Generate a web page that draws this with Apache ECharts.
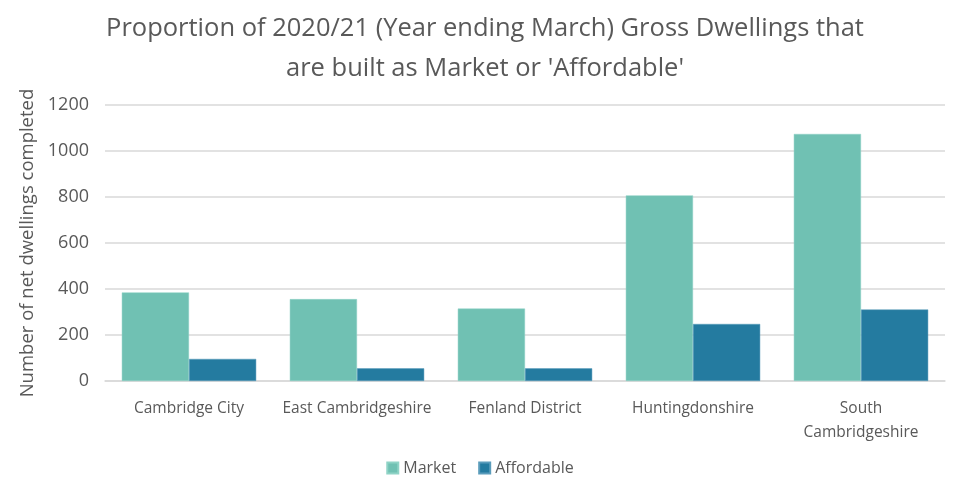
<!DOCTYPE html>
<html>
<head>
<meta charset="utf-8">
<script src="https://cdn.jsdelivr.net/npm/echarts@6/dist/echarts.min.js"></script>
<style>html,body{margin:0;padding:0;background:#fff;}#c{width:960px;height:492px;}</style>
</head>
<body>
<div id="c"></div>
<script>
const categories = ['Cambridge City', 'East Cambridgeshire', 'Fenland District', 'Huntingdonshire', 'South\nCambridgeshire'];
const market = [385, 356, 315, 807, 1074];
const affordable = [96, 55, 55, 248, 311];
const yTicks = [0, 200, 400, 600, 800, 1000, 1200];

const font = '"Open Sans", "Noto Sans", sans-serif';
const chart = echarts.init(document.getElementById('c'));
chart.setOption({
  animation: false,
  title: {
    text: "Proportion of 2020/21 (Year ending March) Gross Dwellings that\nare built as Market or 'Affordable'",
    left: 480, top: 4, textAlign: 'center',
    textStyle: { fontFamily: font, fontSize: 25.5, fontWeight: 'normal', color: '#595959', lineHeight: 40 }
  },
  legend: {
    bottom: 11, left: 'center', itemWidth: 11, itemHeight: 11, itemGap: 22,
    icon: 'rect',
    textStyle: { fontFamily: font, fontSize: 16, color: '#595959' },
    data: ['Market', 'Affordable']
  },
  grid: { left: 105, right: 15, top: 105, bottom: 111 },
  xAxis: {
    type: 'category', data: categories,
    axisTick: { show: false },
    axisLine: { lineStyle: { color: '#d9d9d9', width: 1.5 } },
    axisLabel: { fontFamily: font, fontSize: 15.5, color: '#595959', margin: 16, lineHeight: 24, interval: 0 }
  },
  yAxis: {
    type: 'value', min: 0, max: 1200, interval: 200,
    name: 'Number of net dwellings completed', nameLocation: 'middle', nameGap: 63,
    nameTextStyle: { fontFamily: font, fontSize: 18.5, color: '#595959' },
    axisLabel: { fontFamily: font, fontSize: 18, color: '#595959', margin: 16,
      formatter: v => yTicks.includes(v) ? String(v) : '' },
    splitLine: { lineStyle: { color: '#d9d9d9', width: 1.5 } }
  },
  series: [
    { name: 'Market', type: 'bar', data: market, barGap: '0%', barCategoryGap: '20%',
      itemStyle: { color: '#70C1B3', borderColor: '#8fd3c6', borderWidth: 0.5 } },
    { name: 'Affordable', type: 'bar', data: affordable,
      itemStyle: { color: '#247BA0', borderColor: '#5a9cbb', borderWidth: 0.5 } }
  ]
});
</script>
</body>
</html>
